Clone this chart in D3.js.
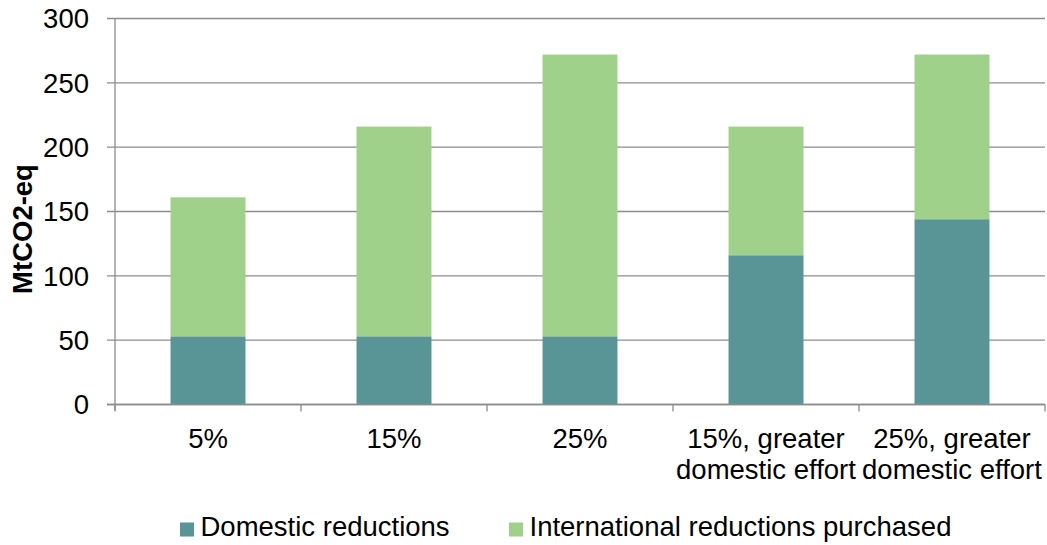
<!DOCTYPE html>
<html>
<head>
<meta charset="utf-8">
<script src="https://cdn.jsdelivr.net/npm/d3@7"></script>
<style>
  html, body { margin: 0; padding: 0; background: #fff; }
  svg text { font-family: "Liberation Sans", Arial, sans-serif; fill: #000; }
</style>
</head>
<body>
<svg id="chart" width="1047" height="545"></svg>
<script>
// Emission reduction scenarios (MtCO2-eq)
const categories = [
  ["5%"],
  ["15%"],
  ["25%"],
  ["15%, greater", "domestic effort"],
  ["25%, greater", "domestic effort"]
];
const domestic = [53, 53, 53, 116, 144];
const international = [108, 163, 219, 100, 128];
const seriesNames = ["Domestic reductions", "International reductions purchased"];
const colors = ["#599497", "#A0D18B"];
const yTicks = [0, 50, 100, 150, 200, 250, 300];

const svg = d3.select("#chart");
const plotLeft = 115, plotRight = 1045, plotTop = 18.5, plotBottom = 404.5;
const fontSize = 27.5;

const x = d3.scaleBand()
  .domain(d3.range(categories.length))
  .range([plotLeft, plotRight])
  .paddingInner(0.597)
  .paddingOuter(0.2985);

const y = d3.scaleLinear().domain([0, 300]).range([plotBottom, plotTop]);

// gridlines with left tick extension
svg.append("g").selectAll("line").data(yTicks).join("line")
  .attr("x1", plotLeft - 8).attr("x2", plotRight)
  .attr("y1", d => y(d)).attr("y2", d => y(d))
  .attr("stroke", "#8c8c8c").attr("stroke-width", 1.3);

// y tick labels
svg.append("g").selectAll("text").data(yTicks).join("text")
  .attr("x", 89).attr("y", d => y(d))
  .attr("dy", "0.36em")
  .attr("text-anchor", "end")
  .attr("font-size", fontSize)
  .text(d => d);

// stacked bars
const rows = categories.map((c, i) => ({ i, domestic: domestic[i], international: international[i] }));
const stack = d3.stack().keys(["domestic", "international"])(rows);
svg.append("g").selectAll("g").data(stack).join("g")
  .attr("fill", (d, k) => colors[k])
  .selectAll("rect").data(d => d).join("rect")
  .attr("x", d => x(d.data.i))
  .attr("width", x.bandwidth())
  .attr("y", d => y(d[1]))
  .attr("height", d => y(d[0]) - y(d[1]));

// y axis line
svg.append("line")
  .attr("x1", plotLeft).attr("x2", plotLeft)
  .attr("y1", plotTop).attr("y2", plotBottom + 6)
  .attr("stroke", "#8c8c8c").attr("stroke-width", 1.3);

// x axis line and category boundary ticks
svg.append("line")
  .attr("x1", plotLeft - 8).attr("x2", plotRight)
  .attr("y1", plotBottom).attr("y2", plotBottom)
  .attr("stroke", "#8c8c8c").attr("stroke-width", 1.3);
const bounds = d3.range(categories.length + 1).map(i => plotLeft + i * x.step());
svg.append("g").selectAll("line").data(bounds).join("line")
  .attr("x1", d => d).attr("x2", d => d)
  .attr("y1", plotBottom).attr("y2", plotBottom + 7)
  .attr("stroke", "#8c8c8c").attr("stroke-width", 1.3);

// category labels
const lab = svg.append("g").selectAll("text").data(categories).join("text")
  .attr("text-anchor", "middle")
  .attr("font-size", fontSize)
  .attr("x", (d, i) => x(i) + x.bandwidth() / 2)
  .attr("y", 448);
lab.selectAll("tspan").data(d => d).join("tspan")
  .attr("x", function () { return this.parentNode.getAttribute("x"); })
  .attr("dy", (d, j) => j === 0 ? 0 : 30.5)
  .text(d => d);

// y axis title
svg.append("text")
  .attr("transform", "translate(31.5,229) rotate(-90)")
  .attr("text-anchor", "middle")
  .attr("font-size", fontSize)
  .attr("font-weight", "bold")
  .text("MtCO2-eq");

// legend
const legendPos = [180, 509];
const leg = svg.append("g").selectAll("g").data(seriesNames).join("g")
  .attr("transform", (d, i) => `translate(${legendPos[i]},0)`);
leg.append("rect")
  .attr("x", 0).attr("y", 522.5).attr("width", 14).attr("height", 14)
  .attr("fill", (d, i) => colors[i]);
leg.append("text")
  .attr("x", 20.5).attr("y", 535.5)
  .attr("font-size", fontSize)
  .text(d => d);
</script>
</body>
</html>
